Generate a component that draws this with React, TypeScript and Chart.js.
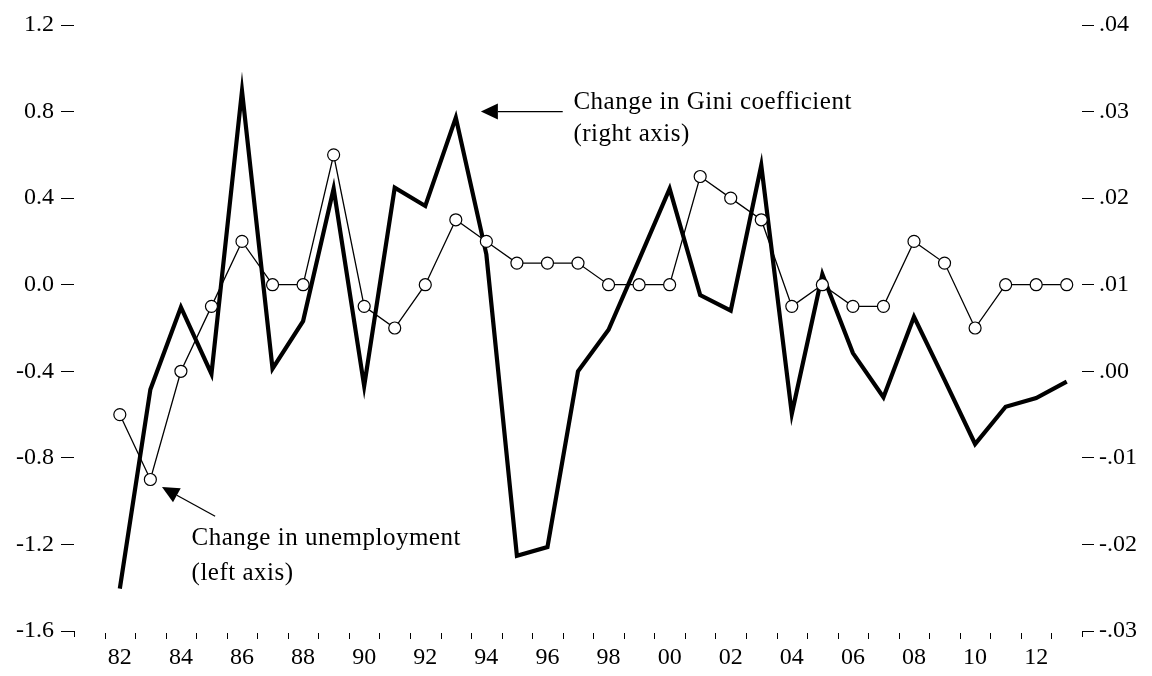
import React, { useEffect, useRef } from "react";
import { Chart, registerables } from "chart.js";

Chart.register(...registerables);

// ---- data ----
const years = [
  1982, 1983, 1984, 1985, 1986, 1987, 1988, 1989, 1990, 1991, 1992, 1993, 1994, 1995, 1996, 1997,
  1998, 1999, 2000, 2001, 2002, 2003, 2004, 2005, 2006, 2007, 2008, 2009, 2010, 2011, 2012, 2013,
];
// Change in unemployment (left axis)
const unemploymentChange = [
  -0.6, -0.9, -0.4, -0.1, 0.2, 0.0, 0.0, 0.6, -0.1, -0.2, 0.0, 0.3, 0.2, 0.1, 0.1, 0.1,
  0.0, 0.0, 0.0, 0.5, 0.4, 0.3, -0.1, 0.0, -0.1, -0.1, 0.2, 0.1, -0.2, 0.0, 0.0, 0.0,
];
// Change in Gini coefficient (right axis)
const giniChange = [
  -0.0251, -0.0021, 0.0074, -0.0003, 0.0324, 0.0003, 0.0058, 0.0211, -0.0017, 0.0212, 0.0191, 0.0293,
  0.0135, -0.0213, -0.0203, 0.0, 0.0048, 0.0129, 0.0211, 0.0088, 0.007, 0.0238, -0.0049, 0.0112,
  0.0021, -0.003, 0.0063, -0.001, -0.0084, -0.0041, -0.0031, -0.0012,
];
const xLabelYears = [1982, 1984, 1986, 1988, 1990, 1992, 1994, 1996, 1998, 2000, 2002, 2004, 2006, 2008, 2010, 2012];
const leftTicks = [-1.6, -1.2, -0.8, -0.4, 0.0, 0.4, 0.8, 1.2];
const rightTicks = [-0.03, -0.02, -0.01, 0.0, 0.01, 0.02, 0.03, 0.04];

const giniLabel = ["Change in Gini coefficient", "(right axis)"];
const unempLabel = ["Change in unemployment", "(left axis)"];

const FONT = "'Liberation Serif', 'Times New Roman', serif";

function fmtLeft(v: number) {
  return (Math.abs(v) < 1e-9 ? 0 : v).toFixed(1);
}
function fmtRight(v: number) {
  if (Math.abs(v) < 1e-9) return ".00";
  const s = v.toFixed(2);
  return s.replace("0.", ".");
}

function drawArrow(ctx: CanvasRenderingContext2D, x1: number, y1: number, x2: number, y2: number) {
  // line from (x1,y1) to arrow tip (x2,y2)
  const ang = Math.atan2(y2 - y1, x2 - x1);
  const headLen = 17;
  const headHalf = 8;
  const bx = x2 - Math.cos(ang) * headLen;
  const by = y2 - Math.sin(ang) * headLen;
  ctx.beginPath();
  ctx.moveTo(x1, y1);
  ctx.lineTo(bx, by);
  ctx.lineWidth = 1.3;
  ctx.strokeStyle = "#000";
  ctx.stroke();
  ctx.beginPath();
  ctx.moveTo(x2, y2);
  ctx.lineTo(bx + Math.sin(ang) * headHalf, by - Math.cos(ang) * headHalf);
  ctx.lineTo(bx - Math.sin(ang) * headHalf, by + Math.cos(ang) * headHalf);
  ctx.closePath();
  ctx.fillStyle = "#000";
  ctx.fill();
}

const decorPlugin = {
  id: "decor",
  afterDraw(chart: any) {
    const ctx: CanvasRenderingContext2D = chart.ctx;
    const xs = chart.scales.x;
    const yl = chart.scales.y;
    const area = chart.chartArea;
    ctx.save();
    // x tick marks at year boundaries
    ctx.strokeStyle = "#000";
    ctx.lineWidth = 1;
    const minX = xs.min;
    const maxX = xs.max;
    for (let v = minX; v <= maxX + 1e-6; v += 1) {
      const px = Math.round(xs.getPixelForValue(v)) + 0.5;
      ctx.beginPath();
      if (v === minX || Math.abs(v - maxX) < 1e-6) {
        ctx.moveTo(px, area.bottom);
        ctx.lineTo(px, area.bottom + 6);
      } else {
        ctx.moveTo(px, area.bottom + 2);
        ctx.lineTo(px, area.bottom + 8);
      }
      ctx.stroke();
    }

    // annotations
    ctx.font = `25px ${FONT}`;
    (ctx as any).letterSpacing = "0.5px";
    ctx.fillStyle = "#000";
    ctx.textBaseline = "alphabetic";
    ctx.textAlign = "left";

    // Gini annotation
    const gx = xs.getPixelForValue(1996.85);
    const gy = yl.getPixelForValue(0.81);
    ctx.fillText(giniLabel[0], gx, gy);
    ctx.fillText(giniLabel[1], gx, gy + 32);
    drawArrow(
      ctx,
      xs.getPixelForValue(1996.5),
      yl.getPixelForValue(0.8),
      xs.getPixelForValue(1993.82),
      yl.getPixelForValue(0.8)
    );

    // Unemployment annotation
    const ux = xs.getPixelForValue(1984.35);
    const uy = yl.getPixelForValue(-1.202);
    ctx.fillText(unempLabel[0], ux, uy);
    ctx.fillText(unempLabel[1], ux, uy + 35);
    drawArrow(
      ctx,
      xs.getPixelForValue(1985.12),
      yl.getPixelForValue(-1.07),
      xs.getPixelForValue(1983.38),
      yl.getPixelForValue(-0.935)
    );
    ctx.restore();
  },
};

export default function App() {
  const canvasRef = useRef<HTMLCanvasElement | null>(null);

  useEffect(() => {
    if (!canvasRef.current) return;
    const chart = new Chart(canvasRef.current, {
      type: "line",
      data: {
        datasets: [
          {
            label: "Change in unemployment",
            data: years.map((x, i) => ({ x, y: unemploymentChange[i] })),
            yAxisID: "y",
            borderColor: "#000",
            borderWidth: 1.3,
            pointRadius: 6,
            pointBackgroundColor: "#fff",
            pointBorderColor: "#000",
            pointBorderWidth: 1.2,
            tension: 0,
            order: 0,
          },
          {
            label: "Change in Gini coefficient",
            data: years.map((x, i) => ({ x, y: giniChange[i] })),
            yAxisID: "y2",
            borderColor: "#000",
            borderWidth: 4.2,
            pointRadius: 0,
            tension: 0,
            borderJoinStyle: "miter",
            order: 1,
          },
        ],
      },
      options: {
        animation: false,
        responsive: true,
        maintainAspectRatio: false,
        layout: { padding: { top: 25, bottom: 0, left: 0, right: 0 } },
        plugins: {
          legend: { display: false },
          tooltip: { enabled: false },
        },
        scales: {
          x: {
            type: "linear",
            min: 1980.5,
            max: 2013.5,
            afterBuildTicks: (scale: any) => {
              scale.ticks = xLabelYears.map((v) => ({ value: v }));
            },
            afterFit: (scale: any) => {
              scale.height = 45;
            },
            grid: { display: false, drawTicks: false },
            border: { display: false },
            ticks: {
              autoSkip: false,
              maxRotation: 0,
              padding: 12,
              color: "#000",
              font: { family: FONT, size: 24 },
              callback: (v: any) => String(Number(v) % 100).padStart(2, "0"),
            },
          },
          y: {
            type: "linear",
            position: "left",
            min: -1.6,
            max: 1.2,
            afterBuildTicks: (scale: any) => {
              scale.ticks = leftTicks.map((v) => ({ value: v }));
            },
            afterFit: (scale: any) => {
              scale.width = 74;
            },
            grid: {
              display: true,
              drawOnChartArea: false,
              drawTicks: true,
              tickLength: 13,
              tickColor: "#000",
              tickWidth: 1,
            },
            border: { display: false },
            ticks: {
              padding: 7,
              color: "#000",
              font: { family: FONT, size: 24 },
              callback: (v: any) => fmtLeft(Number(v)),
            },
          },
          y2: {
            type: "linear",
            position: "right",
            min: -0.03,
            max: 0.04,
            afterBuildTicks: (scale: any) => {
              scale.ticks = rightTicks.map((v) => ({ value: v }));
            },
            afterFit: (scale: any) => {
              scale.width = 70;
            },
            grid: {
              display: true,
              drawOnChartArea: false,
              drawTicks: true,
              tickLength: 12,
              tickColor: "#000",
              tickWidth: 1,
            },
            border: { display: false },
            ticks: {
              padding: 5,
              color: "#000",
              font: { family: FONT, size: 24 },
              callback: (v: any) => fmtRight(Number(v)),
            },
          },
        },
      },
      plugins: [decorPlugin],
    });
    return () => chart.destroy();
  }, []);

  return (
    <div style={{ position: "fixed", left: 0, top: 0, width: 1152, height: 676, background: "#fff" }}>
      <canvas ref={canvasRef} />
    </div>
  );
}
